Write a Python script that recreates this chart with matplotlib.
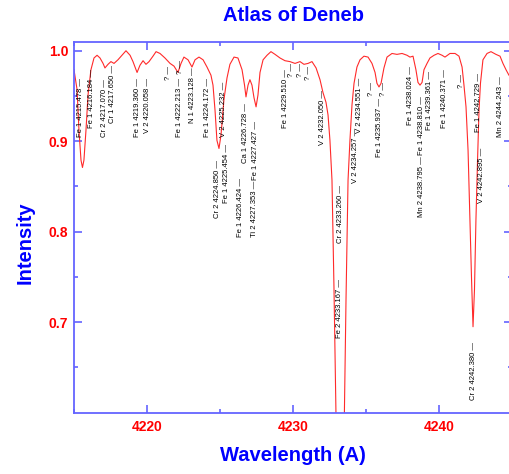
import matplotlib
matplotlib.use("Agg")
import matplotlib.pyplot as plt
from matplotlib.ticker import FixedLocator, MultipleLocator, FormatStrFormatter

# spectrum (wavelength in A, normalised intensity)
wavelength = [4215.00, 4215.21, 4215.34, 4215.48, 4215.58, 4215.68, 4215.82, 4215.96,
              4216.16, 4216.37, 4216.58, 4216.78, 4216.99, 4217.12, 4217.33, 4217.53,
              4217.74, 4218.01, 4218.29, 4218.56, 4218.84, 4219.04, 4219.32, 4219.52,
              4219.73, 4219.93, 4220.14, 4220.41, 4220.62, 4220.89, 4221.23, 4221.58,
              4221.85, 4222.12, 4222.33, 4222.53, 4222.81, 4223.08, 4223.29, 4223.56,
              4223.84, 4224.11, 4224.38, 4224.52, 4224.66, 4224.79, 4224.93, 4225.07,
              4225.27, 4225.48, 4225.68, 4225.96, 4226.23, 4226.51, 4226.68, 4226.78,
              4226.92, 4227.05, 4227.19, 4227.33, 4227.47, 4227.60, 4227.74, 4227.95,
              4228.22, 4228.49, 4228.77, 4229.11, 4229.45, 4229.79, 4230.14, 4230.48,
              4230.75, 4231.03, 4231.30, 4231.58, 4231.85, 4232.05, 4232.26, 4232.40,
              4232.53, 4232.67, 4232.81, 4232.95, 4233.08, 4233.22, 4233.36, 4233.52,
              4233.63, 4233.77, 4233.90, 4234.04, 4234.18, 4234.38, 4234.59, 4234.86,
              4235.14, 4235.41, 4235.62, 4235.75, 4235.89, 4236.03, 4236.23, 4236.44,
              4236.78, 4237.12, 4237.47, 4237.81, 4238.01, 4238.22, 4238.42, 4238.56,
              4238.70, 4238.84, 4238.97, 4239.18, 4239.38, 4239.66, 4239.93, 4240.21,
              4240.41, 4240.75, 4241.10, 4241.37, 4241.58, 4241.71, 4241.85, 4241.99,
              4242.12, 4242.23, 4242.33, 4242.43, 4242.53, 4242.64, 4242.74, 4242.84,
              4243.01, 4243.29, 4243.56, 4243.90, 4244.18, 4244.38, 4244.59, 4244.79,
              4245.00]
intensity = [0.979, 0.957, 0.912, 0.879, 0.871, 0.879, 0.912, 0.951,
             0.979, 0.992, 0.995, 0.992, 0.986, 0.981, 0.985, 0.988,
             0.986, 0.990, 0.995, 1.000, 0.995, 0.988, 0.976, 0.984,
             0.989, 0.985, 0.988, 0.994, 0.999, 0.997, 0.992, 0.986,
             0.983, 0.976, 0.986, 0.993, 0.990, 0.982, 0.990, 0.993,
             0.990, 0.982, 0.973, 0.962, 0.934, 0.901, 0.892, 0.907,
             0.946, 0.970, 0.985, 0.993, 0.992, 0.979, 0.962, 0.949,
             0.962, 0.968, 0.962, 0.948, 0.938, 0.951, 0.976, 0.990,
             0.995, 0.999, 0.996, 0.992, 0.989, 0.988, 0.986, 0.988,
             0.985, 0.986, 0.988, 0.981, 0.968, 0.954, 0.943, 0.929,
             0.901, 0.857, 0.735, 0.592, 0.503, 0.480, 0.510, 0.600,
             0.724, 0.857, 0.901, 0.940, 0.964, 0.982, 0.990, 0.994,
             0.993, 0.986, 0.976, 0.964, 0.960, 0.964, 0.981, 0.993,
             0.997, 0.996, 0.997, 0.995, 0.993, 0.994, 0.979, 0.965,
             0.962, 0.965, 0.979, 0.986, 0.992, 0.995, 0.997, 0.995,
             0.993, 0.997, 0.997, 0.994, 0.982, 0.962, 0.938, 0.890,
             0.813, 0.747, 0.695, 0.736, 0.813, 0.879, 0.934, 0.964,
             0.990, 0.997, 0.999, 0.996, 0.994, 0.986, 0.979, 0.973,
             0.970]

# line identifications: wavelength, name, intensity where the label starts
line_wl = [4215.478, 4216.184, 4217.070, 4217.650, 4219.360, 4220.058, 4221.44,
           4222.213, 4222.30, 4223.128, 4224.172, 4224.850, 4225.232, 4225.454,
           4226.424, 4226.728, 4227.353, 4227.427, 4229.510, 4229.90, 4230.53,
           4231.03, 4232.050, 4233.167, 4233.260, 4234.257, 4234.551, 4235.39,
           4235.937, 4236.23, 4238.024, 4238.795, 4238.810, 4239.361, 4240.371,
           4241.55, 4242.380, 4242.729, 4242.895, 4244.243]
line_name = ["Fe 1 4215.478", "Fe 1 4216.184", "Cr 2 4217.070", "Cr 1 4217.650",
             "Fe 1 4219.360", "V 2 4220.058", "?", "Fe 1 4222.213", "?",
             "N 1 4223.128", "Fe 1 4224.172", "Cr 2 4224.850", "V 2 4225.232",
             "Fe 1 4225.454", "Fe 1 4226.424", "Ca 1 4226.728", "Ti 2 4227.353",
             "Fe 1 4227.427", "Fe 1 4229.510", "?", "?", "?", "V 2 4232.050",
             "Fe 2 4233.167", "Cr 2 4233.260", "V 2 4234.257", "V 2 4234.551", "?",
             "Fe 1 4235.937", "?", "Fe 1 4238.024", "Mn 2 4238.795", "Fe 1 4238.810",
             "Fe 1 4239.361", "Fe 1 4240.371", "?", "Cr 2 4242.380", "Fe 1 4242.729",
             "V 2 4242.895", "Mn 2 4244.243"]
line_base = [0.905, 0.915, 0.905, 0.920, 0.905, 0.909, 0.968,
             0.905, 0.974, 0.920, 0.905, 0.815, 0.905, 0.832,
             0.794, 0.876, 0.794, 0.857, 0.915, 0.971, 0.971,
             0.968, 0.896, 0.683, 0.787, 0.854, 0.909, 0.950,
             0.883, 0.950, 0.918, 0.816, 0.885, 0.912, 0.915,
             0.959, 0.614, 0.910, 0.832, 0.905]

blue = "#0000ff"
axis_blue = "#6464ff"
red = "#ff0000"

fig = plt.figure(figsize=(5.09, 4.74), dpi=100)
ax = fig.add_axes([74 / 509, 61.3 / 474, 438 / 509, 371 / 474])

ax.plot(wavelength, intensity, color="#ff2a2a", linewidth=0.8)

for wl, name, yb in zip(line_wl, line_name, line_base):
    ax.text(wl, yb, name + " \u2014", rotation=90, ha="center", va="bottom",
            fontsize=5.5, family="Liberation Sans", color="black")

ax.set_xlim(4215, 4245)
ax.set_ylim(0.6, 1.01)
ax.xaxis.set_major_locator(MultipleLocator(10))
ax.xaxis.set_minor_locator(MultipleLocator(5))
ax.yaxis.set_major_locator(FixedLocator([0.7, 0.8, 0.9, 1.0]))
ax.yaxis.set_minor_locator(FixedLocator([0.65, 0.75, 0.85, 0.95]))
ax.yaxis.set_major_formatter(FormatStrFormatter("%.1f"))

for s in ax.spines.values():
    s.set_color(axis_blue)
    s.set_linewidth(1.3)
ax.tick_params(which="both", direction="in", colors=axis_blue, top=True, right=True,
               width=1.2)
ax.tick_params(which="major", length=5.5)
ax.tick_params(which="minor", length=3)
ax.tick_params(axis="x", which="major", pad=5, labelcolor=red)
ax.tick_params(axis="y", which="major", pad=4, labelcolor=red)
for lab in ax.get_xticklabels() + ax.get_yticklabels():
    lab.set_fontweight("bold")
    lab.set_fontsize(10)
    lab.set_family("Liberation Sans")

font_lab = dict(fontsize=14.5, fontweight="bold", color=blue, family="Liberation Sans")
ax.set_title("Atlas of Deneb", pad=15, **font_lab)
ax.set_xlabel("Wavelength (A)", labelpad=9, **font_lab)
ax.set_ylabel("Intensity", labelpad=10, y=0.457, **font_lab)

fig.savefig("out.png", dpi=100)
